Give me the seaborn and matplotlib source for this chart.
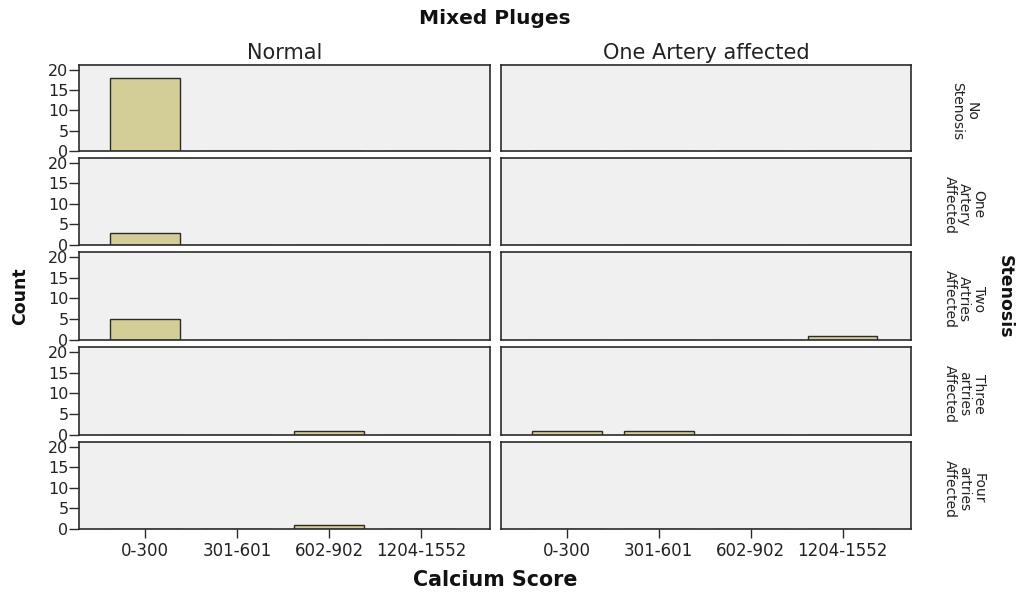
import matplotlib
matplotlib.use("Agg")
import matplotlib.pyplot as plt
import seaborn as sns
import pandas as pd

sns.set_style("white")
plt.rcParams['font.family'] = ['DejaVu Sans']

title = "Mixed Pluges"
categories = ["0-300", "301-601", "602-902", "1204-1552"]
columns = ["Normal", "One Artery affected"]
rows = ["No\nStenosis", "One\nArtery\nAffected", "Two\nArtries\nAffected",
        "Three\nartries\nAffected", "Four\nartries\nAffected"]

# counts per row (stenosis level), listed over categories
normal_counts = [
    [18, 0, 0, 0],
    [3, 0, 0, 0],
    [5, 0, 0, 0],
    [0, 0, 1, 0],
    [0, 0, 1, 0],
]
one_artery_counts = [
    [0, 0, 0, 0],
    [0, 0, 0, 0],
    [0, 0, 0, 1],
    [1, 1, 0, 0],
    [0, 0, 0, 0],
]
yticks = [0, 5, 10, 15, 20]

recs = []
for cname, cnts in zip(columns, [normal_counts, one_artery_counts]):
    for ri, rname in enumerate(rows):
        for k, cat in enumerate(categories):
            recs.append(dict(col=cname, row=rname, cat=cat, count=cnts[ri][k]))
df = pd.DataFrame(recs)

W, H = 1020, 592
fig = plt.figure(figsize=(W / 100, H / 100), dpi=100)

col_x = [(79, 490), (501, 911)]
row_y = [(65, 151), (158, 245), (252, 340), (347, 435), (442, 529)]

bar_color = "#D3CE97"
edge = "#2b2b2b"
txt = "#222222"

for ci, cname in enumerate(columns):
    for ri, rname in enumerate(rows):
        x0, x1 = col_x[ci]
        y0, y1 = row_y[ri]
        ax = fig.add_axes([x0 / W, 1 - y1 / H, (x1 - x0) / W, (y1 - y0) / H])
        sub = df[(df.col == cname) & (df.row == rname)]
        sns.barplot(data=sub, x="cat", y="count", order=categories, ax=ax,
                    color=bar_color, edgecolor=edge, linewidth=1.0,
                    width=0.76, saturation=1)
        ax.set_facecolor("#F0F0F0")
        ax.set_xlim(-0.715, 3.745)
        ax.set_ylim(0, 21.2)
        ax.set_xlabel("")
        ax.set_ylabel("")
        for s in ax.spines.values():
            s.set_visible(True)
            s.set_color(edge)
            s.set_linewidth(1.2)
        if ci == 0:
            ax.set_yticks(yticks)
            ax.set_yticklabels([str(t) for t in yticks], fontsize=11.5, color=txt)
            ax.tick_params(axis="y", left=True, direction="out", length=7,
                           width=1, color=edge, pad=0.5)
        else:
            ax.set_yticks([])
        if ri == len(rows) - 1:
            ax.set_xticks(range(len(categories)))
            ax.set_xticklabels(categories, fontsize=12, color=txt)
            ax.tick_params(axis="x", bottom=True, direction="out", length=6.5,
                           width=1, color=edge, pad=3)
        else:
            ax.set_xticks([])
        if ri == 0:
            fig.text((x0 + x1) / 2 / W, 1 - 53 / H, cname, ha="center", va="center",
                     fontsize=15, color=txt)
        if ci == 1:
            fig.text(964 / W, 1 - ((y0 + y1) / 2 + 3) / H, rname, rotation=270,
                     ha="center", va="center", multialignment="center",
                     fontsize=10, color=txt, linespacing=1.05)

fig.text(495 / W, 1 - 19 / H, title, ha="center", va="center",
         fontsize=14.5, fontweight="bold", color="#111")
fig.text(495 / W, 1 - 580 / H, "Calcium Score", ha="center", va="center",
         fontsize=14.9, fontweight="bold", color="#111")
fig.text(20 / W, 1 - 296 / H, "Count", ha="center", va="center", rotation=90,
         fontsize=12.5, fontweight="bold", color="#111")
fig.text(1005 / W, 1 - 297 / H, "Stenosis", ha="center", va="center", rotation=270,
         fontsize=12.5, fontweight="bold", color="#111")

fig.savefig("out.png", dpi=100, facecolor="white")
